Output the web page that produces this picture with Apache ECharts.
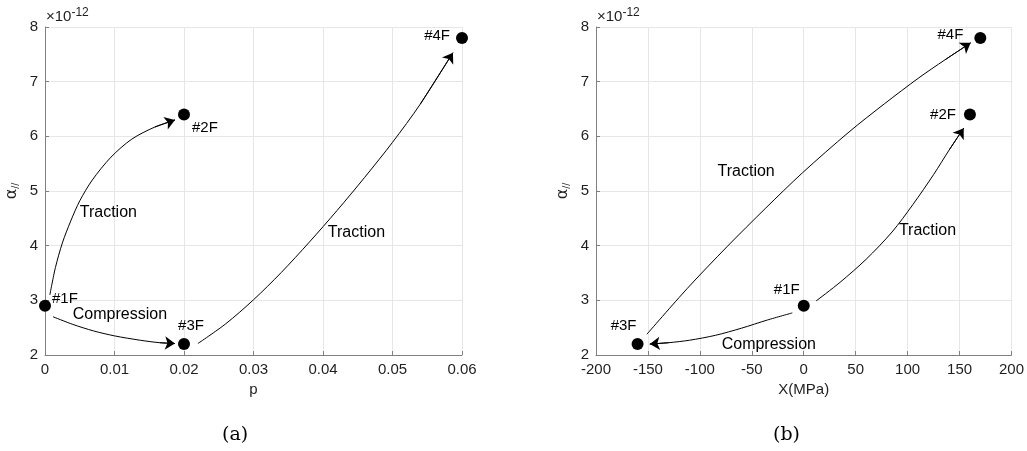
<!DOCTYPE html>
<html>
<head>
<meta charset="utf-8">
<script src="https://cdn.jsdelivr.net/npm/echarts@6/dist/echarts.min.js"></script>
<style>
html,body{margin:0;padding:0;background:#fff;}
#chart{width:1027px;height:451px;}
</style>
</head>
<body>
<div id="chart"></div>
<script>
// ---------- DATA (alpha values in units of 1e-12) ----------
const pointNames = ['#1F', '#2F', '#3F', '#4F'];
const pA = [0, 0.02, 0.02, 0.06];            // panel (a) x: p
const alphaA = [2.9, 6.4, 2.2, 7.8];          // panel (a) y
const stressB = [0, 160, -160, 170];          // panel (b) x: X (MPa)
const alphaB = [2.9, 6.4, 2.2, 7.8];          // panel (b) y

const xTicksA = [0, 0.01, 0.02, 0.03, 0.04, 0.05, 0.06];
const xTicksB = [-200, -150, -100, -50, 0, 50, 100, 150, 200];
const yTicks = [2, 3, 4, 5, 6, 7, 8];

// path curves, last point = arrow tip
const curveA_1to2 = [[0.0007,3.1],[0.0015,3.6],[0.0025,4.05],[0.0037,4.45],[0.0050,4.82],[0.0068,5.2],[0.0095,5.62],[0.0125,5.95],[0.0158,6.17],[0.0187,6.30]];
const curveA_1to3 = [[0.00115,2.70],[0.0040,2.56],[0.0070,2.44],[0.0100,2.35],[0.0137,2.27],[0.0165,2.225],[0.0187,2.21]];
const curveA_3to4 = [[0.0220,2.21],[0.0260,2.57],[0.0300,3.01],[0.0340,3.51],[0.0380,4.06],[0.0420,4.64],[0.0460,5.25],[0.0500,5.89],[0.0540,6.59],[0.0587,7.53]];
const curveB_1to3 = [[-11,2.77],[-35,2.64],[-60,2.49],[-85,2.36],[-110,2.27],[-130,2.225],[-148.2,2.20]];
const curveB_1to2 = [[12,2.99],[35,3.33],[60,3.75],[85,4.25],[105,4.75],[125,5.3],[140,5.75],[154,6.15]];
const curveB_3to4 = [[-151,2.38],[-112,3.22],[-73.4,3.99],[-37,4.68],[-1.4,5.33],[43.6,6.08],[78,6.6],[110.8,7.07],[136,7.40],[160.7,7.71]];

// annotation texts and their anchor (left, middle) in data units
const annotationsA = [['Traction', 0.0050, 4.61], ['Compression', 0.0040, 2.73], ['Traction', 0.0407, 4.24]];
const annotationsB = [['Traction', -83, 5.35], ['Traction', 91.6, 4.28], ['Compression', -79, 2.19]];

// ---------- STYLE / LAYOUT ----------
const FONT = "'Liberation Sans', Arial, Helvetica, sans-serif";
const TXT = '#1f1f1f';
// point label layout: [align, dx, dy]
const labelLayoutA = {'#1F':['left',7,-7], '#2F':['left',8,13], '#3F':['center',7,-18], '#4F':['right',-12,-2]};
const labelLayoutB = {'#1F':['center',-17,-16], '#2F':['right',-14,0], '#3F':['center',-14,-18], '#4F':['right',-17,-3]};

const chart = echarts.init(document.getElementById('chart'), null, {renderer: 'canvas'});

function xAxisCfg(idx, min, max, interval, name, fmt) {
  return {
    type: 'value', gridIndex: idx, min: min, max: max, interval: interval,
    name: name, nameLocation: 'middle', nameGap: 26,
    nameTextStyle: {fontFamily: FONT, fontSize: 15, color: TXT},
    axisLine: {show: true, onZero: false, lineStyle: {color: '#808080', width: 1}},
    axisTick: {show: true, inside: true, length: 4, lineStyle: {color: '#808080'}},
    axisLabel: {fontFamily: FONT, fontSize: 15, color: TXT, margin: 7, formatter: fmt},
    splitLine: {show: true, lineStyle: {color: '#e6e6e6', width: 1}}
  };
}
function yAxisCfg(idx) {
  return {
    type: 'value', gridIndex: idx, min: yTicks[0], max: yTicks[yTicks.length - 1], interval: 1,
    name: '{a|α}{s|//}', nameLocation: 'middle', nameGap: 24, nameRotate: 90,
    nameTextStyle: {
      fontFamily: FONT, color: TXT,
      rich: {a: {fontSize: 16, fontFamily: 'DejaVu Sans', color: TXT},
             s: {fontSize: 11, fontFamily: FONT, color: TXT, padding: [7, 0, 0, 0]}}
    },
    axisLine: {show: true, onZero: false, lineStyle: {color: '#808080', width: 1}},
    axisTick: {show: true, inside: true, length: 4, lineStyle: {color: '#808080'}},
    axisLabel: {fontFamily: FONT, fontSize: 15, color: TXT, margin: 7},
    splitLine: {show: true, lineStyle: {color: '#e6e6e6', width: 1}}
  };
}

function curveSeries(idx, pts) {
  return [{
    type: 'line', xAxisIndex: idx, yAxisIndex: idx, data: pts, smooth: 0.3,
    showSymbol: false, symbol: 'none', silent: true, z: 3,
    lineStyle: {color: '#000', width: 1}
  }, {
    type: 'lines', coordinateSystem: 'cartesian2d', xAxisIndex: idx, yAxisIndex: idx, silent: true, z: 4,
    symbol: ['none', 'arrow'], symbolSize: 10,
    lineStyle: {color: '#000', width: 1, opacity: 1},
    data: [{coords: [pts[pts.length - 2], pts[pts.length - 1]]}]
  }];
}

function pointSeries(idx, xs, ys, layout) {
  return {
    type: 'scatter', xAxisIndex: idx, yAxisIndex: idx, symbol: 'circle', symbolSize: 12, z: 5,
    itemStyle: {color: '#000', opacity: 1}, silent: true,
    data: pointNames.map((n, i) => {
      const l = layout[n];
      return {
        value: [xs[i], ys[i]], name: n,
        label: {show: true, position: 'inside', formatter: n, align: l[0], verticalAlign: 'middle',
                offset: [l[1], l[2]], fontFamily: FONT, fontSize: 15, color: '#000', opacity: 1}
      };
    })
  };
}

function annotationSeries(idx, ann) {
  return {
    type: 'scatter', xAxisIndex: idx, yAxisIndex: idx, symbol: 'circle', symbolSize: 1, z: 6, silent: true,
    itemStyle: {color: '#fff', opacity: 0},
    data: ann.map(a => ({
      value: [a[1], a[2]],
      label: {show: true, position: 'inside', formatter: a[0], align: 'left', verticalAlign: 'middle',
              fontFamily: FONT, fontSize: 16, color: '#000', opacity: 1}
    }))
  };
}

const expoStyle = {rich: {m: {fontSize: 15, fontFamily: FONT, fill: TXT}, e: {fontSize: 12, fontFamily: FONT, fill: TXT, padding: [0, 0, 8, 0]}}, text: '{m|×10}{e|-12}', fill: TXT};

const option = {
  animation: false,
  backgroundColor: '#fff',
  grid: [
    {left: 45, top: 27, width: 417, height: 328},
    {left: 596, top: 27, width: 417, height: 328}
  ],
  xAxis: [
    xAxisCfg(0, xTicksA[0], xTicksA[xTicksA.length - 1], 0.01, 'p', v => String(+v.toFixed(2))),
    xAxisCfg(1, xTicksB[0], xTicksB[xTicksB.length - 1], 50, 'X(MPa)', v => String(v))
  ],
  yAxis: [yAxisCfg(0), yAxisCfg(1)],
  graphic: [
    {type: 'text', left: 46, top: 7, style: expoStyle},
    {type: 'text', left: 597, top: 7, style: expoStyle},
    {type: 'text', left: 222, top: 426, style: {text: '(a)', font: "19px 'DejaVu Serif', 'Liberation Serif', serif", fill: '#000'}},
    {type: 'text', left: 773, top: 426, style: {text: '(b)', font: "19px 'DejaVu Serif', 'Liberation Serif', serif", fill: '#000'}}
  ],
  series: [].concat(
    curveSeries(0, curveA_1to2), curveSeries(0, curveA_1to3), curveSeries(0, curveA_3to4),
    curveSeries(1, curveB_1to3), curveSeries(1, curveB_1to2), curveSeries(1, curveB_3to4),
    [pointSeries(0, pA, alphaA, labelLayoutA), pointSeries(1, stressB, alphaB, labelLayoutB),
     annotationSeries(0, annotationsA), annotationSeries(1, annotationsB)]
  )
};
chart.setOption(option);
</script>
</body>
</html>
